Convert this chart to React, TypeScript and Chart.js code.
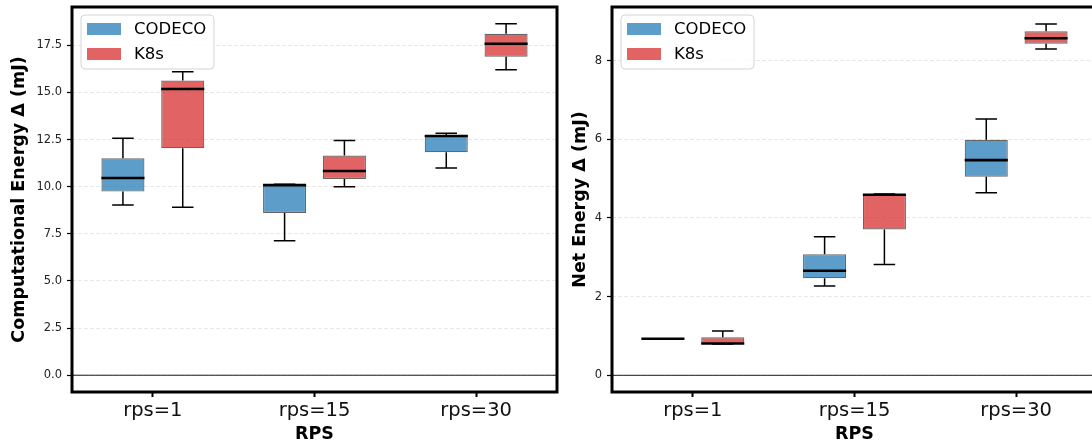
import React, { useEffect, useRef } from 'react';
import { Chart, registerables } from 'chart.js';

Chart.register(...registerables);

// ---------- data ----------
const categories = ['rps=1', 'rps=15', 'rps=30'];
const seriesNames = ['CODECO', 'K8s'];

// Computational Energy Δ (mJ)
const compCodecoLow = [9.03, 7.13, 10.99];
const compCodecoQ1 = [9.74, 8.61, 11.83];
const compCodecoMed = [10.46, 10.08, 12.69];
const compCodecoQ3 = [11.51, 10.13, 12.74];
const compCodecoHigh = [12.57, 10.13, 12.84];

const compK8sLow = [8.91, 9.99, 16.2];
const compK8sQ1 = [12.04, 10.41, 16.89];
const compK8sMed = [15.18, 10.83, 17.58];
const compK8sQ3 = [15.63, 11.65, 18.11];
const compK8sHigh = [16.09, 12.45, 18.64];

// Net Energy Δ (mJ)
const netCodecoLow = [0.93, 2.27, 4.64];
const netCodecoQ1 = [0.925, 2.47, 5.05];
const netCodecoMed = [0.93, 2.66, 5.47];
const netCodecoQ3 = [0.935, 3.08, 5.99];
const netCodecoHigh = [0.93, 3.525, 6.52];

const netK8sLow = [0.795, 2.82, 8.3];
const netK8sQ1 = [0.8, 3.71, 8.43];
const netK8sMed = [0.81, 4.59, 8.57];
const netK8sQ3 = [0.966, 4.61, 8.75];
const netK8sHigh = [1.126, 4.61, 8.93];

const compYTicks = [0, 2.5, 5, 7.5, 10, 12.5, 15, 17.5];
const netYTicks = [0, 2, 4, 6, 8];

// ---------- styles ----------
const FONT = "'DejaVu Sans', 'Liberation Sans', sans-serif";
const fillColors = ['rgba(31,119,180,0.72)', 'rgba(214,39,40,0.72)'];

const boxPlugin = {
  id: 'boxWhiskers',
  beforeDatasetsDraw(chart: any) {
    const { ctx, chartArea, scales } = chart;
    const y0 = scales.y.getPixelForValue(0);
    ctx.save();
    ctx.strokeStyle = '#000';
    ctx.lineWidth = 0.9;
    ctx.beginPath();
    ctx.moveTo(chartArea.left, y0);
    ctx.lineTo(chartArea.right, y0);
    ctx.stroke();
    ctx.restore();
  },
  afterDatasetsDraw(chart: any) {
    const { ctx, scales } = chart;
    const ys = scales.y;
    ctx.save();
    chart.data.datasets.forEach((ds: any, di: number) => {
      const meta = chart.getDatasetMeta(di);
      const st = ds.stats;
      meta.data.forEach((el: any, i: number) => {
        const { x, width } = el.getProps(['x', 'width'], true);
        const lowPx = ys.getPixelForValue(st.low[i]);
        const q1Px = ys.getPixelForValue(st.q1[i]);
        const medPx = ys.getPixelForValue(st.med[i]);
        const q3Px = ys.getPixelForValue(st.q3[i]);
        const highPx = ys.getPixelForValue(st.high[i]);
        ctx.strokeStyle = '#000';
        ctx.lineWidth = 1.5;
        ctx.beginPath();
        ctx.moveTo(x, q3Px);
        ctx.lineTo(x, highPx);
        ctx.moveTo(x, q1Px);
        ctx.lineTo(x, lowPx);
        ctx.moveTo(x - width / 4, highPx);
        ctx.lineTo(x + width / 4, highPx);
        ctx.moveTo(x - width / 4, lowPx);
        ctx.lineTo(x + width / 4, lowPx);
        ctx.stroke();
        ctx.lineWidth = 2.6;
        ctx.beginPath();
        ctx.moveTo(x - width / 2, medPx);
        ctx.lineTo(x + width / 2, medPx);
        ctx.stroke();
      });
    });
    ctx.restore();
  },
  afterDraw(chart: any) {
    const { ctx, chartArea } = chart;
    ctx.save();
    // frame
    ctx.strokeStyle = '#000';
    ctx.lineWidth = 3;
    ctx.strokeRect(chartArea.left, chartArea.top, chartArea.right - chartArea.left, chartArea.bottom - chartArea.top);
    // legend
    const bx = chartArea.left + 9;
    const by = chartArea.top + 8;
    const bw = 133;
    const bh = 54;
    const r = 4;
    ctx.beginPath();
    ctx.moveTo(bx + r, by);
    ctx.lineTo(bx + bw - r, by);
    ctx.quadraticCurveTo(bx + bw, by, bx + bw, by + r);
    ctx.lineTo(bx + bw, by + bh - r);
    ctx.quadraticCurveTo(bx + bw, by + bh, bx + bw - r, by + bh);
    ctx.lineTo(bx + r, by + bh);
    ctx.quadraticCurveTo(bx, by + bh, bx, by + bh - r);
    ctx.lineTo(bx, by + r);
    ctx.quadraticCurveTo(bx, by, bx + r, by);
    ctx.closePath();
    ctx.fillStyle = 'rgba(255,255,255,0.85)';
    ctx.fill();
    ctx.strokeStyle = '#d4d4d4';
    ctx.lineWidth = 1;
    ctx.stroke();
    chart.data.datasets.forEach((ds: any, di: number) => {
      const cy = by + 14 + di * 25;
      ctx.fillStyle = ds.backgroundColor;
      ctx.fillRect(bx + 6, cy - 6, 34, 12);
      ctx.fillStyle = '#000';
      ctx.font = `16.5px ${FONT}`;
      ctx.textBaseline = 'middle';
      ctx.textAlign = 'left';
      ctx.fillText(ds.label, bx + 53, cy + 1);
    });
    ctx.restore();
  },
};

function makeConfig(opts: {
  codeco: any;
  k8s: any;
  yMin: number;
  yMax: number;
  yTicks: number[];
  yFmt: (v: number) => string;
  yTitle: string;
  yWidth: number;
  titlePad: number;
  rightPad: number;
}): any {
  return {
    type: 'bar',
    data: {
      labels: categories,
      datasets: [opts.codeco, opts.k8s].map((s, i) => ({
        label: seriesNames[i],
        data: s.q1.map((q: number, j: number) => [q, s.q3[j]]),
        stats: s,
        backgroundColor: fillColors[i],
        borderColor: 'rgba(0,0,0,0.6)',
        borderWidth: 1.2,
        borderSkipped: false,
        categoryPercentage: 0.74,
        barPercentage: 0.72,
      })),
    },
    options: {
      responsive: false,
      animation: false,
      layout: { padding: { left: 0, right: opts.rightPad, top: 7, bottom: 0 } },
      plugins: { legend: { display: false }, tooltip: { enabled: false } },
      scales: {
        x: {
          type: 'category',
          offset: true,
          afterFit: (s: any) => {
            s.height = 56;
            s.paddingLeft = 0;
            s.paddingRight = 0;
          },
          grid: {
            offset: false,
            drawOnChartArea: false,
            drawTicks: true,
            tickLength: 5,
            tickColor: '#000',
            tickWidth: 2,
          },
          border: { display: false },
          ticks: {
            font: { family: FONT, size: 19.5 },
            color: '#111',
            padding: 2,
            maxRotation: 0,
            autoSkip: false,
          },
          title: {
            display: true,
            text: 'RPS',
            font: { family: FONT, size: 17.5, weight: 'bold' },
            color: '#000',
            padding: { top: 0, bottom: 3 },
          },
        },
        y: {
          type: 'linear',
          min: opts.yMin,
          max: opts.yMax,
          afterFit: (s: any) => {
            s.width = opts.yWidth;
            s.paddingTop = 0;
            s.paddingBottom = 0;
          },
          afterBuildTicks: (s: any) => {
            s.ticks = opts.yTicks.map((v) => ({ value: v }));
          },
          grid: {
            color: '#e2e2e2',
            lineWidth: 0.8,
            drawTicks: true,
            tickLength: 5,
            tickColor: '#000',
            tickWidth: 1.2,
            tickBorderDash: [],
          },
          border: { display: false, dash: [4, 2] },
          ticks: {
            font: { family: FONT, size: 11.5 },
            color: '#222',
            padding: 5,
            callback: (v: any) => opts.yFmt(Number(v)),
          },
          title: {
            display: true,
            text: opts.yTitle,
            font: { family: FONT, size: 17.5, weight: 'bold' },
            color: '#000',
            padding: { top: opts.titlePad, bottom: 0 },
          },
        },
      },
    },
    plugins: [boxPlugin],
  };
}

export default function App() {
  const leftRef = useRef<HTMLCanvasElement>(null);
  const rightRef = useRef<HTMLCanvasElement>(null);

  useEffect(() => {
    Chart.defaults.font.family = FONT;
    const left = new Chart(
      leftRef.current as HTMLCanvasElement,
      makeConfig({
        codeco: { low: compCodecoLow, q1: compCodecoQ1, med: compCodecoMed, q3: compCodecoQ3, high: compCodecoHigh },
        k8s: { low: compK8sLow, q1: compK8sQ1, med: compK8sMed, q3: compK8sQ3, high: compK8sHigh },
        yMin: -0.89,
        yMax: 19.53,
        yTicks: compYTicks,
        yFmt: (v) => v.toFixed(1),
        yTitle: 'Computational Energy Δ (mJ)',
        yWidth: 72,
        titlePad: 8.5,
        rightPad: 3,
      })
    );
    const right = new Chart(
      rightRef.current as HTMLCanvasElement,
      makeConfig({
        codeco: { low: netCodecoLow, q1: netCodecoQ1, med: netCodecoMed, q3: netCodecoQ3, high: netCodecoHigh },
        k8s: { low: netK8sLow, q1: netK8sQ1, med: netK8sMed, q3: netK8sQ3, high: netK8sHigh },
        yMin: -0.425,
        yMax: 9.365,
        yTicks: netYTicks,
        yFmt: (v) => String(v),
        yTitle: 'Net Energy Δ (mJ)',
        yWidth: 52,
        titlePad: 9.5,
        rightPad: 23,
      })
    );
    return () => {
      left.destroy();
      right.destroy();
    };
  }, []);

  return (
    <div
      style={{
        position: 'fixed',
        left: 0,
        top: 0,
        width: 1092,
        height: 448,
        overflow: 'hidden',
        background: '#fff',
      }}
    >
      <canvas
        ref={leftRef}
        width={560}
        height={448}
        style={{ position: 'absolute', left: 0, top: 0, display: 'block' }}
      />
      <canvas
        ref={rightRef}
        width={560}
        height={448}
        style={{ position: 'absolute', left: 560, top: 0, display: 'block' }}
      />
    </div>
  );
}
